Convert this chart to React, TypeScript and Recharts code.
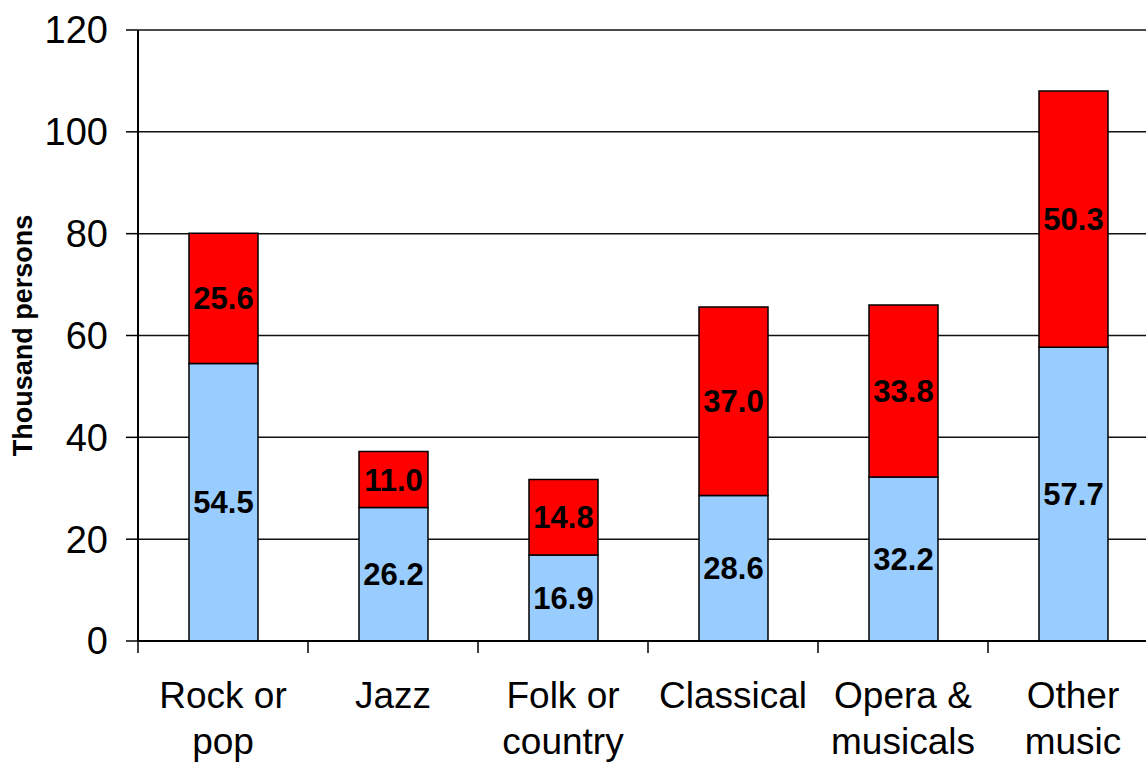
import { BarChart, Bar, XAxis, YAxis, CartesianGrid, LabelList } from "recharts";

const categories = ["Rock or\npop", "Jazz", "Folk or\ncountry", "Classical", "Opera &\nmusicals", "Other\nmusic"];
const lowerValues = [54.5, 26.2, 16.9, 28.6, 32.2, 57.7];
const upperValues = [25.6, 11.0, 14.8, 37.0, 33.8, 50.3];
const yTicks = [0, 20, 40, 60, 80, 100, 120];

const FONT = "'Liberation Sans', Arial, sans-serif";

const data = categories.map((name, i) => ({
  name,
  lower: lowerValues[i],
  upper: upperValues[i],
}));

// category label plus a tick mark on the band's left edge (Excel style)
function CategoryTick(props: any) {
  const { x, y, payload, index } = props;
  const half = payload && payload.offset != null ? payload.offset : 0;
  const lines = String(payload.value).split("\n");
  const last = index === categories.length - 1;
  return (
    <g>
      <line x1={x - half} x2={x - half} y1={y} y2={y + 12} stroke="#000" strokeWidth={1.5} />
      {last && <line x1={x + half} x2={x + half} y1={y} y2={y + 12} stroke="#000" strokeWidth={1.5} />}
      <text x={x} y={y} textAnchor="middle" fontFamily={FONT} fontSize={37} fill="#000">
        {lines.map((line, i) => (
          <tspan key={i} x={x} dy={i === 0 ? 67 : 46}>
            {line}
          </tspan>
        ))}
      </text>
    </g>
  );
}

function AxisTitle(props: any) {
  const vb = props.viewBox || { x: 0, y: 0, width: 0, height: 0 };
  const cx = 32;
  const cy = vb.y + vb.height / 2;
  return (
    <text
      x={cx}
      y={cy}
      transform={`rotate(-90 ${cx} ${cy})`}
      textAnchor="middle"
      fontFamily={FONT}
      fontWeight="bold"
      fontSize={27}
      fill="#000"
    >
      Thousand persons
    </text>
  );
}

const fmt = (v: any) => Number(v).toFixed(1);
const valueLabelStyle = { fontFamily: FONT, fontWeight: "bold", fontSize: 31, fill: "#000" };

export default function App() {
  return (
    <div style={{ position: "absolute", left: 0, top: 0, width: 1146, height: 763, overflow: "hidden", background: "#fff" }}>
      <BarChart
        width={1170}
        height={763}
        data={data}
        margin={{ top: 30, right: 12, bottom: 0, left: 0 }}
        barSize={69}
      >
        <CartesianGrid vertical={false} stroke="#111" strokeWidth={1.5} />
        <XAxis
          dataKey="name"
          height={122}
          axisLine={{ stroke: "#000", strokeWidth: 2 }}
          tickLine={false}
          tickSize={0}
          tickMargin={0}
          interval={0}
          tick={<CategoryTick />}
        />
        <YAxis
          width={138}
          domain={[0, 120]}
          ticks={yTicks}
          tickSize={12}
          tickMargin={18}
          axisLine={{ stroke: "#000", strokeWidth: 2 }}
          tickLine={{ stroke: "#000", strokeWidth: 1.5 }}
          tick={{ fontFamily: FONT, fontSize: 38, fill: "#000" }}
          label={<AxisTitle />}
        />
        <Bar dataKey="lower" stackId="s" fill="#99CCFF" stroke="#000" strokeWidth={1.5} isAnimationActive={false}>
          <LabelList dataKey="lower" position="center" formatter={fmt} style={valueLabelStyle} />
        </Bar>
        <Bar dataKey="upper" stackId="s" fill="#FF0000" stroke="#000" strokeWidth={1.5} isAnimationActive={false}>
          <LabelList dataKey="upper" position="center" formatter={fmt} style={valueLabelStyle} />
        </Bar>
      </BarChart>
    </div>
  );
}
